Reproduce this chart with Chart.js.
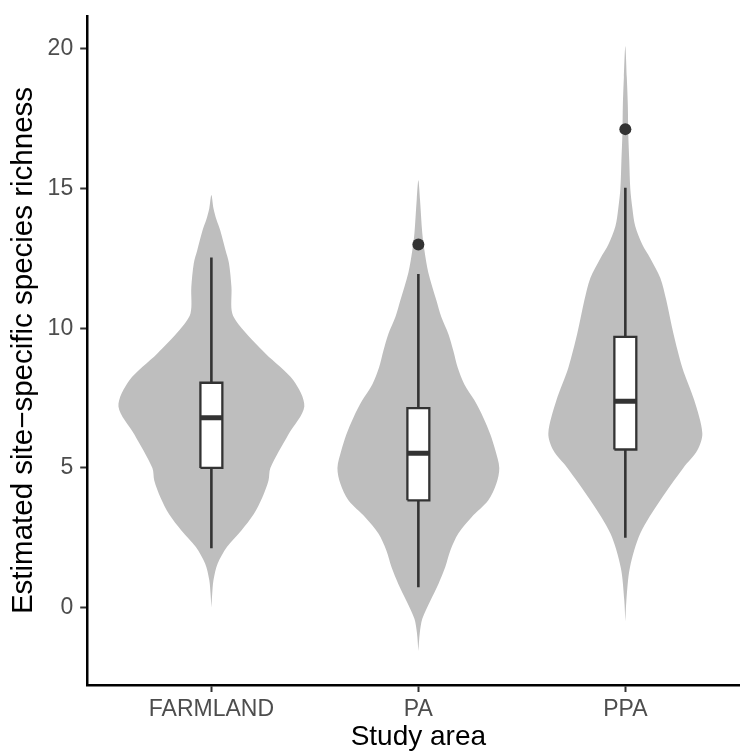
<!DOCTYPE html>
<html>
<head>
<meta charset="utf-8">
<script src="https://cdn.jsdelivr.net/npm/chart.js@4.4.1/dist/chart.umd.min.js"></script>
<style>
  html, body { margin: 0; padding: 0; background: #fff; }
  #wrap { width: 740px; height: 751px; }
</style>
</head>
<body>
<div id="wrap"><canvas id="chart" width="740" height="751"></canvas></div>
<script>
// categories + tick labels
const categories = ["FARMLAND", "PA", "PPA"];
const yTicks = [0, 5, 10, 15, 20];

// violin outlines: richness value and half width (density, in category widths)
const farmY = [14.77, 14.3, 13.9, 13.5, 12.8, 12.33, 11.47, 10.53, 9.93, 9.1, 8.14, 7.2, 6.2, 5.0, 4.55, 3.94, 3.35, 2.76, 2.17, 1.57, 0.98, 0.5, 0.0];
const farmW = [0, 0.010, 0.024, 0.043, 0.068, 0.085, 0.097, 0.101, 0.155, 0.261, 0.396, 0.449, 0.372, 0.285, 0.276, 0.246, 0.205, 0.145, 0.075, 0.030, 0.010, 0.004, 0];

const paY = [15.3, 14.6, 13.4, 12.8, 12.0, 11.0, 10.4, 9.8, 9.2, 8.6, 8.0, 7.42, 6.8, 6.2, 5.63, 5.0, 4.44, 3.84, 3.23, 2.65, 2.05, 1.45, 0.85, 0.25, -0.4, -0.9, -1.55];
const paW = [0, 0.008, 0.019, 0.029, 0.048, 0.087, 0.111, 0.145, 0.169, 0.190, 0.222, 0.271, 0.314, 0.348, 0.372, 0.391, 0.377, 0.338, 0.256, 0.193, 0.155, 0.130, 0.097, 0.058, 0.019, 0.007, 0];

const ppaY = [20.1, 19.0, 18.0, 17.0, 16.0, 15.0, 14.3, 13.65, 13.0, 12.5, 11.8, 11.0, 9.82, 8.6, 7.42, 6.24, 5.63, 5.0, 3.84, 2.65, 1.43, 0.25, -0.5];
const ppaW = [0, 0.007, 0.012, 0.014, 0.019, 0.024, 0.034, 0.048, 0.082, 0.121, 0.169, 0.198, 0.232, 0.275, 0.333, 0.372, 0.348, 0.280, 0.169, 0.072, 0.022, 0.005, 0];

// boxplot stats
const whiskerLow = [2.13, 0.73, 2.50];
const q1 = [5.0, 3.84, 5.66];
const median = [6.8, 5.53, 7.39];
const q3 = [8.05, 7.14, 9.69];
const whiskerHigh = [12.53, 11.94, 15.03];
const outlierCat = [2, 3];
const outlierVal = [13.0, 17.13];

const VIOLIN = "#BEBEBE";
const DARK = "#333333";
const BOX_HALF = 0.053;
const FONT = "'Liberation Sans', Arial, Helvetica, sans-serif";

// outline: up the left side, down the right side
function violinPoints(cx, ys, ws) {
  const pts = [];
  for (let i = ys.length - 1; i >= 0; i--) pts.push({ x: cx - ws[i], y: ys[i] });
  for (let i = 1; i < ys.length; i++) pts.push({ x: cx + ws[i], y: ys[i] });
  return pts;
}

const violins = [[farmY, farmW], [paY, paW], [ppaY, ppaW]];
const datasets = [];

violins.forEach(([ys, ws], i) => {
  datasets.push({
    type: "line",
    data: violinPoints(i + 1, ys, ws),
    backgroundColor: VIOLIN,
    borderColor: "rgba(0,0,0,0)",
    borderWidth: 0,
    fill: "shape",
    tension: 0.3,
    pointRadius: 0,
    order: 5
  });
});

categories.forEach((c, i) => {
  const cx = i + 1;
  // whisker
  datasets.push({
    type: "line",
    data: [{ x: cx, y: whiskerLow[i] }, { x: cx, y: whiskerHigh[i] }],
    borderColor: DARK,
    borderWidth: 2.6,
    pointRadius: 0,
    fill: false,
    order: 4
  });
  // box
  datasets.push({
    type: "line",
    data: [
      { x: cx - BOX_HALF, y: q1[i] }, { x: cx + BOX_HALF, y: q1[i] },
      { x: cx + BOX_HALF, y: q3[i] }, { x: cx - BOX_HALF, y: q3[i] },
      { x: cx - BOX_HALF, y: q1[i] }
    ],
    backgroundColor: "#ffffff",
    borderColor: DARK,
    borderWidth: 2.3,
    borderJoinStyle: "miter",
    fill: "shape",
    tension: 0,
    pointRadius: 0,
    order: 3
  });
  // median
  datasets.push({
    type: "line",
    data: [{ x: cx - BOX_HALF, y: median[i] }, { x: cx + BOX_HALF, y: median[i] }],
    borderColor: DARK,
    borderWidth: 5,
    borderCapStyle: "butt",
    pointRadius: 0,
    fill: false,
    order: 2
  });
});

datasets.push({
  type: "scatter",
  data: outlierCat.map((c, i) => ({ x: c, y: outlierVal[i] })),
  backgroundColor: DARK,
  borderColor: DARK,
  pointRadius: 6,
  borderWidth: 0,
  order: 1
});

const tickFont = { family: FONT, size: 23 };

// fixed axis boxes, no label overflow padding
const fixBox = (w, h) => (s) => {
  if (w != null) s.width = w;
  if (h != null) s.height = h;
  s.paddingTop = s.paddingBottom = s.paddingLeft = s.paddingRight = 0;
};

// the panel runs on past the canvas edge (to 3.6); centre the x title on the whole panel
const panelTitlePlugin = {
  id: "panelTitle",
  afterLayout(chart) {
    const x = chart.scales.x;
    x.right = x.getPixelForValue(3.6);
  }
};

new Chart(document.getElementById("chart"), {
  type: "line",
  data: { datasets },
  plugins: [panelTitlePlugin],
  options: {
    responsive: false,
    animation: false,
    events: [],
    devicePixelRatio: 1,
    layout: { autoPadding: false, padding: { top: 16, right: 0, bottom: 0, left: 0 } },
    plugins: { legend: { display: false }, tooltip: { enabled: false } },
    scales: {
      x: {
        type: "linear",
        min: 0.4,
        max: 3.554,
        afterBuildTicks: (s) => { s.ticks = categories.map((c, i) => ({ value: i + 1 })); },
        afterFit: fixBox(null, 66),
        ticks: {
          autoSkip: false,
          maxRotation: 0,
          padding: 4,
          color: "#4D4D4D",
          font: tickFont,
          callback: (v) => categories[v - 1] ?? ""
        },
        grid: { drawOnChartArea: false, drawTicks: true, tickLength: 7, tickColor: DARK, tickWidth: 2 },
        border: { display: true, color: "#000", width: 2.5 },
        title: { display: true, text: "Study area", color: "#000", font: { family: FONT, size: 28, lineHeight: 1 }, padding: { top: 0, bottom: 0 } }
      },
      y: {
        type: "linear",
        min: -2.77,
        max: 21.18,
        afterBuildTicks: (s) => { s.ticks = yTicks.map(v => ({ value: v })); },
        afterFit: fixBox(87.2, null),
        ticks: { padding: 7, color: "#4D4D4D", font: tickFont },
        grid: { drawOnChartArea: false, drawTicks: true, tickLength: 7, tickColor: DARK, tickWidth: 2 },
        border: { display: true, color: "#000", width: 2.5 },
        title: { display: true, text: "Estimated site\u2212specific species richness", color: "#000", font: { family: FONT, size: 29.5, lineHeight: 1 }, padding: { top: 9, bottom: 0 } }
      }
    }
  }
});
</script>
</body>
</html>
